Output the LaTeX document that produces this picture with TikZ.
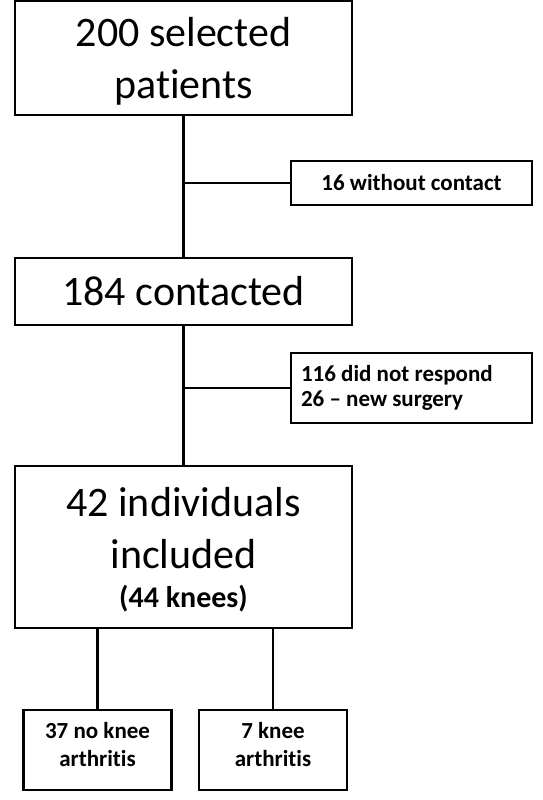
\documentclass[tikz,border=0pt]{standalone}
\usepackage{fontspec}
\setmainfont{Carlito}[Ligatures={TeX,NoCommon}]
\usetikzlibrary{positioning}

\begin{document}
\begin{tikzpicture}[line width=2.6pt,
  bigbox/.style={draw, align=center, inner sep=0pt, outer sep=0pt, minimum width=337pt, font=\fontsize{42}{52}\selectfont},
  sidebox/.style={draw, align=center, inner sep=0pt, outer sep=0pt, minimum width=241pt, font=\bfseries\fontsize{23}{25}\selectfont},
  leafbox/.style={draw, align=center, inner sep=0pt, outer sep=0pt, minimum width=148pt, minimum height=80pt, text depth=12pt, font=\bfseries\fontsize{23}{28}\selectfont}]
\useasboundingbox (0,0) rectangle (542pt,-800pt);
\node[name=selected, bigbox, minimum height=114pt, text depth=0pt] at (183.5pt,-58pt) {200 selected\\patients};
\node[name=contacted, bigbox, minimum height=67pt, below=143pt of selected] {184 contacted};
\node[name=included, bigbox, minimum height=162pt, text depth=0pt, below=141pt of contacted] {42 individuals\\included\\[-13pt] \bfseries\fontsize{30}{40}\selectfont (44 knees)};
\node[name=nocontact, sidebox, minimum height=44pt] at (411.5pt,-183pt) {16 without contact};
\node[name=noresponse, sidebox, minimum height=70pt, text width=221pt, inner xsep=10pt, align=flush left] at (411.5pt,-388pt) {116 did not respond\\26 \textendash{} new surgery};
\node[name=noarthritis, leafbox, below=82pt of included.south, xshift=-86pt] {37 no knee\\arthritis};
\node[name=arthritis, leafbox, below=82pt of included.south, xshift=89.5pt] {7 knee\\arthritis};

\draw (selected.south) -- (contacted.north);
\draw (nocontact.west -| selected.south) -- (nocontact.west);
\draw (contacted.south) -- (included.north);
\draw (noresponse.west -| contacted.south) -- (noresponse.west);
\draw (noarthritis.north |- included.south) -- (noarthritis.north);
\draw (arthritis.north |- included.south) -- (arthritis.north);
\end{tikzpicture}
\end{document}
